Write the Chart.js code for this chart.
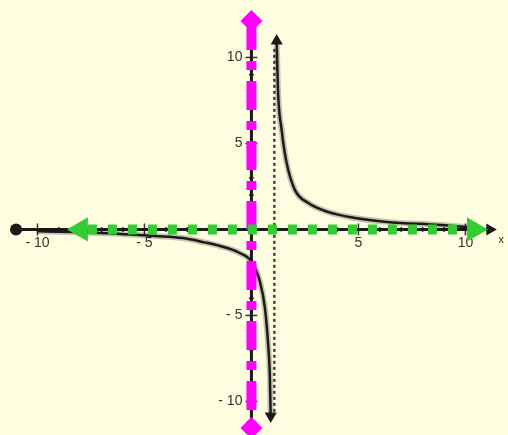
<!DOCTYPE html>
<html>
<head>
<meta charset="utf-8">
<script src="https://cdn.jsdelivr.net/npm/chart.js@4.4.0/dist/chart.umd.min.js"></script>
<style>
  html, body { margin: 0; padding: 0; background: #fffde0; }
  #wrap { width: 508px; height: 435px; }
</style>
</head>
<body>
<div id="wrap"><canvas id="chart" width="508" height="435"></canvas></div>
<script>
// visible window of the plane
const xRange = [-11.75, 11.99];
const yRange = [-11.95, 13.34];

// tick labels
const xTickValues = [-10, -5, 5, 10];
const xTickLabels = ['- 10', '- 5', '5', '10'];
const yTickValues = [10, 5, -5, -10];
const yTickLabels = ['10', '5', '- 5', '- 10'];

// hyperbola
const upperX = [1.18, 1.24, 1.41, 1.64, 2.03, 2.64, 3.57, 4.84, 6.33, 8.86, 10.4];
const upperY = [10.96, 8.1, 5.8, 3.9, 2.3, 1.55, 1.02, 0.67, 0.44, 0.26, 0.1];
const lowerX = [-10, -7, -4.5, -3.2, -2.2, -1.5, -0.55, 0.02, 0.4, 0.63, 0.77, 0.86, 0.9];
const lowerY = [-0.1, -0.2, -0.38, -0.5, -0.75, -0.95, -1.37, -1.9, -3.05, -4.56, -6.5, -8.5, -10.84];

// vertical asymptote (dotted)
const asymX = [1.07, 1.07];
const asymY = [10.5, -10.8];

// black axes
const xAxisX = [-11.0, 11.14];
const xAxisY = [0, 0];
const yAxisX = [0, 0];
const yAxisY = [11.2, -11.0];

// magenta dashed line x = 0
const magentaX = [0, 0];
const magentaY = [12.12, -11.54];

// green dotted line y = 0 with arrow heads
const greenX = [-7.64, 10.07];
const greenY = [0, 0];
const greenArrowX = [-7.97, 10.4];
const greenArrowY = [0, 0];

function pts(xs, ys) {
    return xs.map((v, i) => ({ x: v, y: ys[i] }));
}

const ink = '#1a1a1a';
const magenta = '#ff00ff';
const green = '#33cc33';

// ticks and labels along the axes
const axesPlugin = {
    id: 'axesTicks',
    beforeDatasetsDraw(chart) {
        const { ctx, scales: { x, y } } = chart;
        const px0 = x.getPixelForValue(0);
        const py0 = y.getPixelForValue(0);
        ctx.save();
        ctx.strokeStyle = '#333';
        ctx.lineWidth = 1.5;
        for (let i = -10; i <= 10; i++) {
            if (i === 0) continue;
            const major = i % 5 === 0;
            const h = major ? 6 : 2.5;
            const px = x.getPixelForValue(i);
            ctx.beginPath();
            ctx.moveTo(px, py0 - h);
            ctx.lineTo(px, py0 + h);
            ctx.stroke();
            const py = y.getPixelForValue(i);
            ctx.beginPath();
            ctx.moveTo(px0 - h, py);
            ctx.lineTo(px0 + h, py);
            ctx.stroke();
        }
        ctx.fillStyle = '#333';
        ctx.font = '14px "Liberation Sans", Arial, sans-serif';
        ctx.textAlign = 'center';
        ctx.textBaseline = 'middle';
        xTickValues.forEach((v, i) => {
            ctx.fillText(xTickLabels[i], x.getPixelForValue(v), py0 + 14);
        });
        ctx.textAlign = 'right';
        yTickValues.forEach((v, i) => {
            ctx.fillText(yTickLabels[i], px0 - 9, y.getPixelForValue(v));
        });
        ctx.textAlign = 'left';
        ctx.font = '11px "Liberation Sans", Arial, sans-serif';
        ctx.fillText('x', x.getPixelForValue(11.55), py0 + 11);
        ctx.restore();
    }
};

const upperN = upperX.length;
const lowerN = lowerX.length;

new Chart(document.getElementById('chart'), {
    type: 'scatter',
    data: {
        datasets: [
            {
                // green dotted horizontal line
                data: pts(greenX, greenY),
                showLine: true,
                borderColor: green,
                borderWidth: 10,
                borderDash: [9, 11],
                borderCapStyle: 'butt',
                pointRadius: 0,
                order: 0
            },
            {
                data: pts(greenArrowX, greenArrowY),
                showLine: false,
                pointStyle: 'triangle',
                rotation: [-90, 90],
                pointRadius: 14,
                backgroundColor: green,
                borderWidth: 0,
                order: 0
            },
            {
                // magenta dash-dot vertical line
                data: pts(magentaX, magentaY),
                showLine: true,
                borderColor: magenta,
                borderWidth: 10,
                borderDash: [29, 11, 9, 11],
                borderCapStyle: 'butt',
                pointStyle: 'rectRot',
                pointRadius: 11,
                backgroundColor: magenta,
                pointBorderWidth: 0,
                order: 1
            },
            {
                data: pts(upperX, upperY),
                showLine: true,
                cubicInterpolationMode: 'monotone',
                borderColor: ink,
                borderWidth: 2.5,
                pointStyle: 'triangle',
                rotation: 0,
                pointRadius: c => c.dataIndex === 0 ? 7 : 0,
                backgroundColor: ink,
                pointBorderWidth: 0,
                order: 2
            },
            {
                data: pts(lowerX, lowerY),
                showLine: true,
                cubicInterpolationMode: 'monotone',
                borderColor: ink,
                borderWidth: 2.5,
                pointStyle: 'triangle',
                rotation: 180,
                pointRadius: c => c.dataIndex === lowerN - 1 ? 7 : 0,
                backgroundColor: ink,
                pointBorderWidth: 0,
                order: 2
            },
            {
                // soft grey halo under the curve
                data: pts(upperX, upperY),
                showLine: true,
                cubicInterpolationMode: 'monotone',
                borderColor: 'rgba(0,0,0,0.22)',
                borderWidth: 6,
                pointRadius: 0,
                order: 3
            },
            {
                data: pts(lowerX, lowerY),
                showLine: true,
                cubicInterpolationMode: 'monotone',
                borderColor: 'rgba(0,0,0,0.22)',
                borderWidth: 6,
                pointRadius: 0,
                order: 3
            },
            {
                // dotted asymptote
                data: pts(asymX, asymY),
                showLine: true,
                borderColor: '#444',
                borderWidth: 2.5,
                borderDash: [3, 3],
                pointRadius: 0,
                order: 4
            },
            {
                data: pts(xAxisX, xAxisY),
                showLine: true,
                borderColor: ink,
                borderWidth: 3,
                pointStyle: ['circle', 'triangle'],
                rotation: [0, 90],
                pointRadius: [6, 7],
                backgroundColor: ink,
                pointBorderWidth: 0,
                order: 5
            },
            {
                data: pts(yAxisX, yAxisY),
                showLine: true,
                borderColor: ink,
                borderWidth: 3,
                pointRadius: 0,
                order: 5
            }
        ]
    },
    options: {
        responsive: false,
        animation: false,
        events: [],
        layout: { padding: 0, autoPadding: false },
        plugins: {
            legend: { display: false },
            tooltip: { enabled: false }
        },
        scales: {
            x: { type: 'linear', min: xRange[0], max: xRange[1], display: false },
            y: { type: 'linear', min: yRange[0], max: yRange[1], display: false }
        }
    },
    plugins: [axesPlugin]
});
</script>
</body>
</html>
